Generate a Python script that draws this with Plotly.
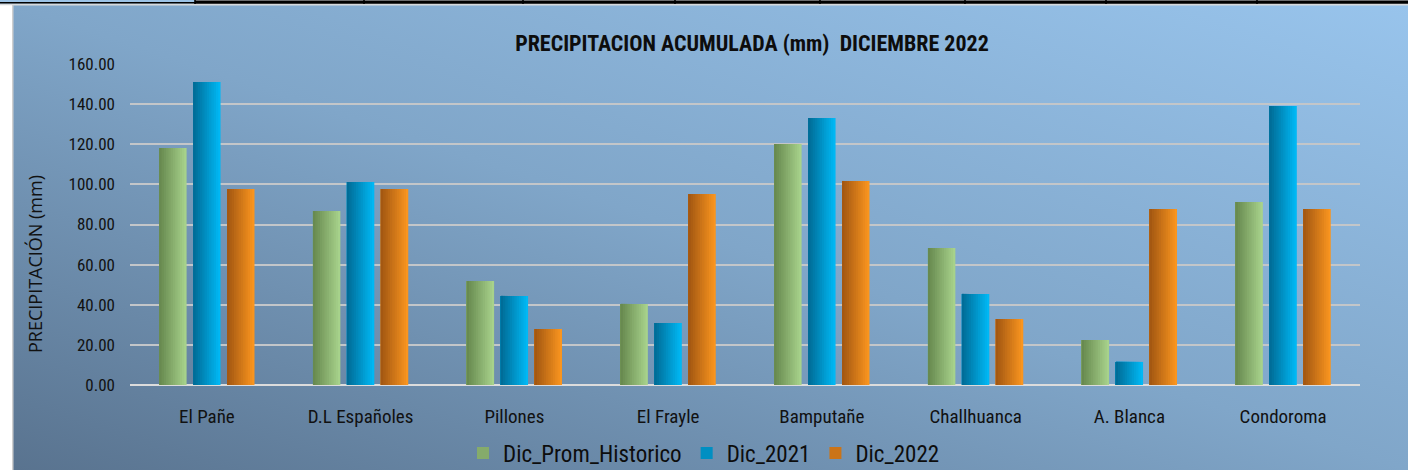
import base64
import plotly.graph_objects as go

categories = ["El Pañe", "D.L Españoles", "Pillones", "El Frayle",
              "Bamputañe", "Challhuanca", "A. Blanca", "Condoroma"]
dic_prom_historico = [118.1, 86.7, 51.8, 40.4, 120.1, 68.3, 22.4, 91.2]
dic_2021 = [151.0, 101.2, 44.4, 30.9, 133.1, 45.4, 11.5, 139.1]
dic_2022 = [97.7, 97.7, 27.9, 95.2, 101.7, 32.9, 87.7, 87.7]
series_names = ["Dic_Prom_Historico", "Dic_2021", "Dic_2022"]
y_ticks = [0, 20, 40, 60, 80, 100, 120, 140, 160]

W, H = 1408, 470
L, R, T, B = 130, 48, 64, 85
PW, PH = W - L - R, H - T - B

def px(x):
    return (x - L) / PW

def py(y):
    return (H - B - y) / PH

def hex2rgb(h):
    h = h.lstrip("#")
    return tuple(int(h[i:i + 2], 16) for i in (0, 2, 4))

def mix(a, b, t):
    ca, cb = hex2rgb(a), hex2rgb(b)
    return "rgb(%d,%d,%d)" % tuple(round(ca[i] + (cb[i] - ca[i]) * t) for i in range(3))

# (light right side, dark left side)
grads = [("#a7d28b", "#688a50"), ("#00b8f4", "#006d98"), ("#f9951f", "#a45812")]
series = [dic_prom_historico, dic_2021, dic_2022]

FONT = "Liberation Sans Narrow, Arial Narrow, Roboto Condensed, sans-serif"

fig = go.Figure()
slot = 0.2208
bw = 0.178
N = 12
for s, (vals, name) in enumerate(zip(series, series_names)):
    off = (s - 1) * slot - bw / 2
    light, dark = grads[s]
    for k in range(N):
        t = k / (N - 1)
        fig.add_trace(go.Bar(
            x=categories, y=vals, name=name,
            offset=off, width=bw * (N - k) / N,
            marker=dict(color=mix(light, dark, t), line=dict(width=0)),
            legendgroup=name, showlegend=(k == N // 2),
            hoverinfo="x+y",
        ))

svg = ('<svg xmlns="http://www.w3.org/2000/svg" width="1395" height="465" preserveAspectRatio="none">'
       '<defs><linearGradient id="g" x1="0" y1="1" x2="1" y2="0">'
       '<stop offset="0" stop-color="#59738f"/>'
       '<stop offset="0.5" stop-color="#80a6c9"/>'
       '<stop offset="1" stop-color="#98c4ec"/>'
       '</linearGradient></defs><rect width="1395" height="465" fill="url(#g)"/></svg>')
src = "data:image/svg+xml;base64," + base64.b64encode(svg.encode()).decode()

top_ticks = [195, 364, 523, 675, 820, 965, 1106, 1257]
shapes = [
    dict(type="rect", xref="paper", yref="paper", x0=px(0), x1=px(W), y0=py(5.5), y1=py(0),
         fillcolor="#d6d9dc", line=dict(width=0), layer="above"),
    dict(type="rect", xref="paper", yref="paper", x0=px(0), x1=px(195), y0=py(3.5), y1=py(0),
         fillcolor="#9cc3e6", line=dict(width=0), layer="above"),
    dict(type="rect", xref="paper", yref="paper", x0=px(0), x1=px(W), y0=py(3.5), y1=py(2),
         fillcolor="black", line=dict(width=0), layer="above"),
    dict(type="rect", xref="paper", yref="paper", x0=px(195), x1=px(W), y0=py(3.5), y1=py(0.5),
         fillcolor="black", line=dict(width=0), layer="above"),
    dict(type="rect", xref="paper", yref="paper", x0=px(0), x1=px(12), y0=py(H), y1=py(5.5),
         fillcolor="white", line=dict(width=0), layer="above"),
    dict(type="rect", xref="paper", yref="paper", x0=px(12), x1=px(13.5), y0=py(H), y1=py(5),
         fillcolor="#cfcfcf", line=dict(width=0), layer="above"),
]
for tx in top_ticks:
    shapes.append(dict(type="rect", xref="paper", yref="paper", x0=px(tx - 0.8), x1=px(tx + 0.8),
                       y0=py(4), y1=py(0), fillcolor="black", line=dict(width=0), layer="above"))

fig.update_layout(
    width=W, height=H,
    margin=dict(l=L, r=R, t=T, b=B),
    paper_bgcolor="white", plot_bgcolor="rgba(0,0,0,0)",
    barmode="overlay",
    images=[dict(source=src, xref="paper", yref="paper",
                 x=px(13), y=py(5), sizex=(W - 13) / PW, sizey=(H - 5) / PH,
                 xanchor="left", yanchor="top", sizing="stretch", layer="below")],
    title=dict(text="<b>PRECIPITACION ACUMULADA (mm)  DICIEMBRE 2022</b>",
               xref="paper", x=px(752), xanchor="center",
               yref="container", y=1 - 43 / H, yanchor="middle",
               font=dict(family=FONT, size=22, color="#0d0d0d")),
    legend=dict(orientation="h", xref="container", x=0.5, xanchor="center",
                yref="container", y=1 - 453 / H, yanchor="middle",
                font=dict(family=FONT, size=23, color="#0d0d0d"),
                bgcolor="rgba(0,0,0,0)", traceorder="normal"),
    xaxis=dict(showgrid=False, ticks="", showline=False, automargin=False,
               tickfont=dict(family=FONT, size=19, color="#111111"),
               ticklabelstandoff=18),
    yaxis=dict(range=[0, 160], tickvals=y_ticks, tickformat=".2f", automargin=False,
               showgrid=True, gridcolor="#c3c6c9", gridwidth=2,
               zeroline=True, zerolinecolor="#dcdcdc", zerolinewidth=2,
               showline=False, ticks="",
               tickfont=dict(family=FONT, size=17, color="#111111"),
               ticklabelstandoff=14),
    annotations=[dict(text="PRECIPITACIÓN (mm)", textangle=-90,
                      xref="paper", yref="paper", x=px(35), y=py(264),
                      xanchor="center", yanchor="middle", showarrow=False,
                      font=dict(family="Open Sans, DejaVu Sans, sans-serif", size=18, color="#111111"))],
    shapes=shapes,
)

fig.write_html("out.html", config={"displayModeBar": False},
               post_script="document.body.style.margin='0';document.body.style.overflow='hidden';")
